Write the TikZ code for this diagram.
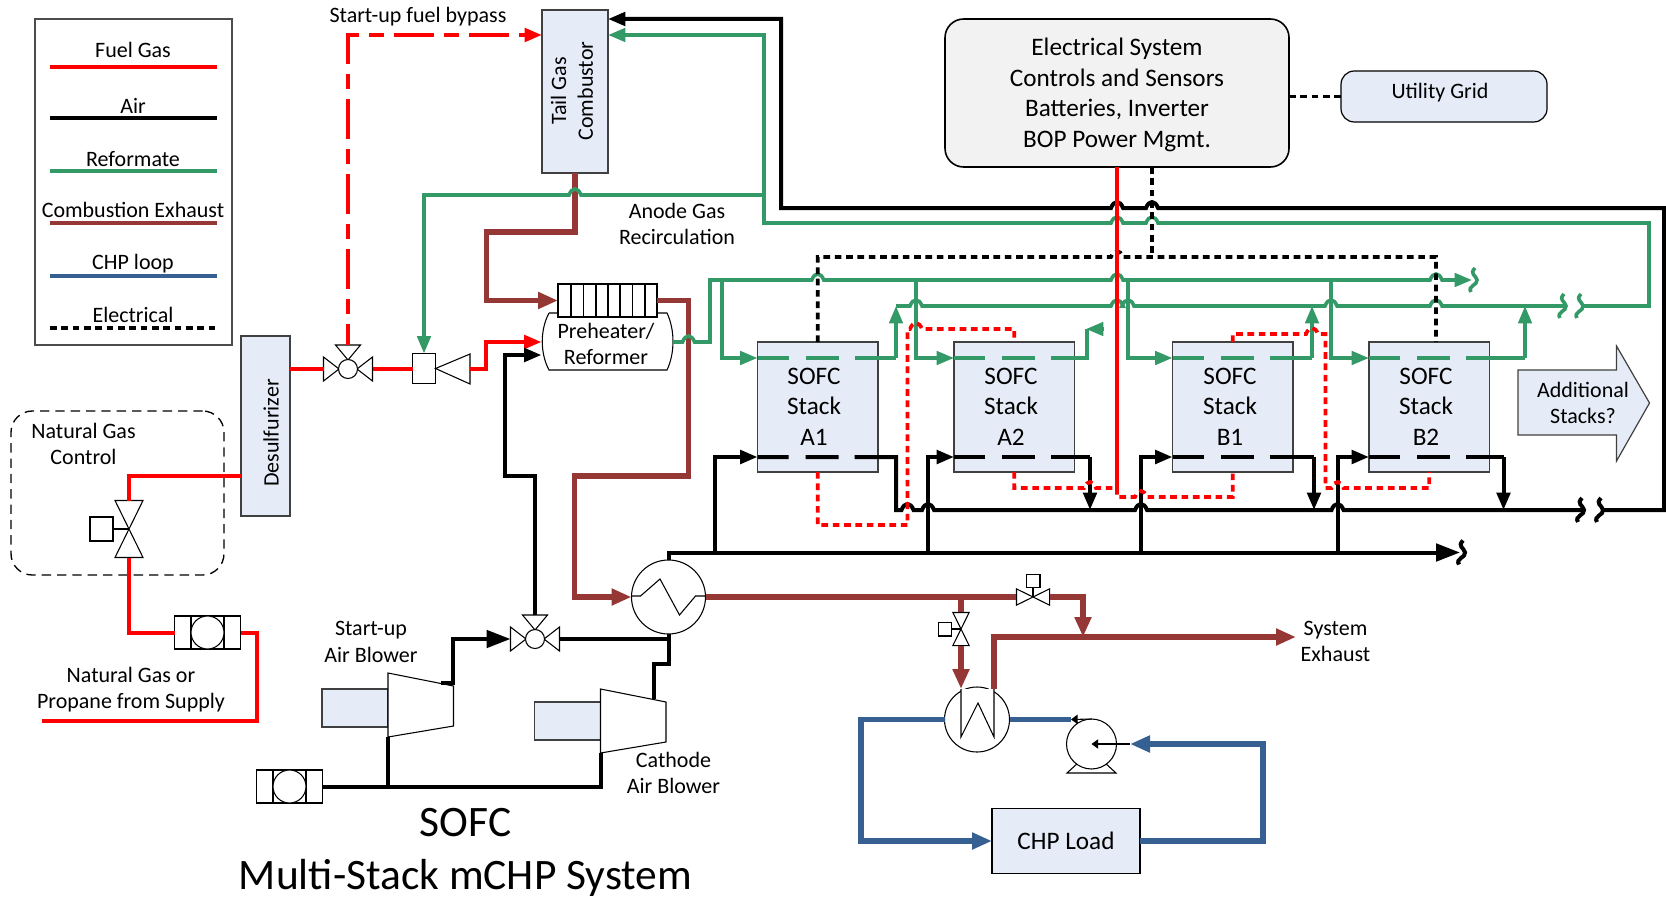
\documentclass[tikz,border=0pt]{standalone}
\usepackage{fontspec}
\setmainfont{Carlito}
\usepackage{tikz}
\usetikzlibrary{arrows.meta}
\definecolor{fuelred}{HTML}{FF0000}
\definecolor{reformgreen}{HTML}{339966}
\definecolor{exhaustbrown}{HTML}{953735}
\definecolor{loopblue}{HTML}{366092}
\definecolor{boxblue}{HTML}{E6ECF7}
\definecolor{boxgrey}{HTML}{F2F2F2}
\newcommand{\hop}[2]{-- (#1-6,#2) .. controls (#1-3,#2-8) and (#1+3,#2-8) .. (#1+6,#2)}

\begin{document}
\begin{tikzpicture}[x=0.75pt,y=-0.75pt]
			\tikzset{size/.style 2 args={minimum width=#1*0.75pt,minimum height=#2*0.75pt,inner sep=0pt,outer sep=0pt}}
			\tikzset{txt/.style={align=center,inner sep=0pt,font=\fontsize{16.5}{20}\selectfont}}
			\tikzset{bigtxt/.style={align=center,inner sep=0pt,font=\fontsize{18.9}{22.9}\selectfont}}
			\tikzset{bluebox/.style={draw=black!75,line width=0.9pt,fill=boxblue}}
			\tikzset{sym/.style={draw=black,line width=0.8pt,fill=white}}
			\tikzset{fuel/.style={color=fuelred,line width=3pt}}
			\tikzset{air/.style={color=black,line width=3pt}}
			\tikzset{reform/.style={color=reformgreen,line width=2.7pt}}
			\tikzset{exhaust/.style={color=exhaustbrown,line width=4pt}}
			\tikzset{chp/.style={color=loopblue,line width=4.2pt}}
			\tikzset{elec/.style={color=black,line width=2.7pt,dash pattern=on 5pt off 3.5pt}}
			\tikzset{sense/.style={color=fuelred,line width=2.8pt,dash pattern=on 5pt off 3.5pt}}
			\tikzset{bypass/.style={dash pattern=on 30pt off 7.5pt on 11.25pt off 7.5pt,dash phase=14.25pt}}
			\tikzset{thru/.style={dash pattern=on 23.25pt off 12.75pt on 24.75pt off 12pt on 2000pt}}
			\tikzset{tip/.style={-{Triangle[length=13pt,width=10pt]}}}
			\tikzset{backtip/.style={{Triangle[length=13pt,width=10pt]}-}}
			\tikzset{widetip/.style={-{Triangle[length=15pt,width=12pt]}}}
			\tikzset{bigtip/.style={-{Triangle[length=18pt,width=13pt]}}}
			\tikzset{smalltip/.style={-{Triangle[length=5pt,width=7pt]},color=black,line width=0.8pt}}
			\tikzset{squig/.pic={\draw (-4,12) .. controls (-8,6) and (3,5) .. (2,0) .. controls (1,-5) and (-6,-6) .. (0,-12);}}
			\tikzset{threeway/.pic={
				\draw[sym] (-24.5,-12) -- (-9,0) -- (-24.5,12) -- cycle;
				\draw[sym] (24.5,-12) -- (9,0) -- (24.5,12) -- cycle;
				\draw[sym] (-12.5,-24) -- (12.5,-24) -- (0,-9) -- cycle;
				\draw[sym] (0,0) circle [radius=9.5];
				\coordinate (-w) at (-24.5,0);
				\coordinate (-e) at (24.5,0);
				\coordinate (-n) at (0,-24);}}
			\tikzset{ctrlvalve/.pic={
				\draw[sym] (-14,-28.5) -- (14,-28.5) -- (-14,28.5) -- (14,28.5) -- cycle;
				\draw[sym] (-39,-12) rectangle (-16,12);
				\draw[sym] (-16,0) -- (0,0);
				\coordinate (-top) at (0,-28.5);
				\coordinate (-bot) at (0,28.5);}}
			\tikzset{meter/.pic={
				\draw[sym] (-33,-16.5) rectangle (33,16.5);
				\draw[sym] (-16.5,-16.5) -- (-16.5,16.5) (16.5,-16.5) -- (16.5,16.5);
				\draw[sym] (0,0) circle [radius=16.5];
				\coordinate (-w) at (-33,0);
				\coordinate (-e) at (33,0);}}
			\tikzset{blower/.pic={
				\draw[bluebox] (-66,#1) rectangle (0,#1+38);
				\draw[sym] (0,0) -- (65.5,13) -- (65.5,53) -- (0,64) -- cycle;
				\coordinate (-out) at (53,10);
				\coordinate (-in) at (0,64);}}
			% Place Nodes
			\useasboundingbox (0,0) rectangle (1666,899);
			\node[draw=black!70,line width=0.9pt,size={197}{326}] (legend) at (133.5,182) {};
			\node[bluebox,size={66}{163}] (TGC) at (575,91.5) {};
			\node[txt,rotate=90] (TGCtext) at (572,91) {Tail Gas\\Combustor};
			\node[draw=black,line width=1.2pt,fill=boxgrey,rounded corners=14pt,size={344}{148}] (Ctrl) at (1117,93) {};
			\node[bigtxt] (Ctrltext) at (1117,95) {Electrical System\\Controls and Sensors\\Batteries, Inverter\\BOP Power Mgmt.};
			\node[bluebox,draw=black,rounded corners=10pt,size={206}{51}] (Grid) at (1444,96.5) {};
			\node[txt] (Gridtext) at (1440,93) {Utility Grid};
			\node[bluebox,size={49}{180}] (Desulf) at (265.5,426) {};
			\node[txt,rotate=90] (Desulftext) at (271,433) {Desulfurizer};
			\node[draw=black,line width=1pt,dash pattern=on 7pt off 4.5pt,rounded corners=16pt,size={213}{164}] (NGbox) at (117.5,493) {};
			\node[txt] (NGtext) at (83.5,444) {Natural Gas\\Control};
			\node[bluebox,size={120.5}{130}] (A1) at (817.75,407) {};
			\node[bluebox,size={120.5}{130}] (A2) at (1014.25,407) {};
			\node[bluebox,size={120.5}{130}] (B1) at (1232.75,407) {};
			\node[bluebox,size={120.5}{130}] (B2) at (1429.25,407) {};
			\node[bigtxt] (A1text) at (814,406.5) {SOFC\\Stack\\A1};
			\node[bigtxt] (A2text) at (1011,406.5) {SOFC\\Stack\\A2};
			\node[bigtxt] (B1text) at (1230,406.5) {SOFC\\Stack\\B1};
			\node[bigtxt] (B2text) at (1426,406.5) {SOFC\\Stack\\B2};
			\draw[bluebox] (1518,370) -- (1616.5,370) -- (1616.5,346) -- (1649.5,403) -- (1616.5,461) -- (1616.5,435) -- (1518,435) -- cycle;
			\node[txt] (More) at (1583,403) {Additional\\Stacks?};
			\node[bluebox,draw=black,size={148}{65}] (Load) at (1066,841) {};
			\node[bigtxt] (Loadtext) at (1066,841) {CHP Load};
			% Junction points
			\coordinate (airrow) at (0,457);
			\coordinate (reformrow) at (0,358);
			\coordinate (busA1) at (715,552.5);
			\coordinate (busA2) at (928,552.5);
			\coordinate (busB1) at (1141,552.5);
			\coordinate (busB2) at (1337.5,552.5);
			\coordinate (busend) at (1460,552.5);
			\coordinate (tapA1) at (722,280);
			\coordinate (tapA2) at (916,280);
			\coordinate (tapB1) at (1128,280);
			\coordinate (tapB2) at (1331,280);
			\coordinate (topend) at (1472,280);
			% Legend
			\foreach \lname/\flow/\ytext/\yline in {Fuel Gas/fuel/50/67,Air/air/106/118,Reformate/reform/159/171,Combustion Exhaust/exhaust/210/223,CHP loop/chp/264/276,Electrical/elec/315/328} {
				\node[txt] (leg\yline) at (133,\ytext) {\lname};
				\coordinate (legl\yline) at (50,\yline);
				\coordinate (legr\yline) at (217,\yline);
				\draw[\flow,line width=2.8pt] (legl\yline) -- (legr\yline);
			}
			% Fuel side
			\pic (vNG) at (129,529) {ctrlvalve};
			\pic (mNG) at (207.5,632.5) {meter};
			\pic (vFuel) at (348,369) {threeway};
			\node[sym,size={23}{30}] (Mix) at (424,368.5) {};
			\coordinate (ejout) at (470,369);
			\draw[sym] (Mix.east) -- (470,354) -- (470,384) -- cycle;
			\coordinate (supply) at (42,721);
			\draw[fuel] (supply) -- (257,721) -- (257,632.5) -- (mNG-e);
			\draw[fuel] (mNG-w) -- (129,632.5) -- (vNG-bot);
			\draw[fuel] (vNG-top) |- (Desulf.west |- 0,476);
			\draw[fuel] (Desulf.east |- vFuel-w) -- (vFuel-w);
			\draw[fuel] (vFuel-e) -- (Mix.west |- vFuel-e);
			\draw[fuel,tip,bypass] (vFuel-n) -- (348,35) -- (TGC.west |- 0,35);
			% Preheater
			\draw[sym] (549,313) -- (667,313) .. controls (675,330) and (675,353) .. (667,370) -- (549,370) .. controls (540,353) and (540,330) .. (549,313);
			\node[size={131}{57}] (Ref) at (607,342) {};
			\node[txt] (Reftext) at (606,344) {Preheater/\\Reformer};
			\node[sym,size={99}{33}] (Fin) at (607.5,300.5) {};
			\foreach \xfin in {571,583.5,596,608,620,632.5,645} {
				\draw[sym] (\xfin,284) -- (\xfin,317);
			}
			\draw[fuel,tip] (ejout) -- (486,369) -- (486,342) -- (Ref.west);
			% Exhaust
			\node[sym,circle,size={74}{74}] (HX) at (668.5,597) {};
			\draw[sym] (631.5,596) -- (640.5,596) -- (660,579) -- (679.5,615) -- (695.5,596) -- (705,596);
			\draw[exhaust,widetip] (TGC.south) -- (575,232) -- (486.5,232) -- (486.5,300.5) -- (Fin.west);
			\draw[exhaust,widetip] (Fin.east) -- (688.5,300.5) -- (688.5,476) -- (574.5,476) -- (574.5,597) -- (HX.west);
			\pic[rotate=-90,scale=0.58] (vBy) at (1033,597) {ctrlvalve};
			\pic[scale=0.58] (vCHP) at (961,629) {ctrlvalve};
			\coordinate (tee) at (961,597);
			\coordinate (hotin) at (961,689);
			\coordinate (hotout) at (994,689);
			\coordinate (merge) at (1083,637);
			\coordinate (exit) at (1296,637);
			\draw[exhaust] (HX.east) -- (vBy-bot);
			\draw[exhaust] (tee) -- (vCHP-top);
			\draw[exhaust,widetip] (vCHP-bot) -- (hotin);
			\draw[exhaust,widetip] (vBy-top) -- (1083,597) -- (merge);
			\draw[exhaust,widetip] (hotout) -- (994,637) -- (exit);
			\node[txt] (Exit) at (1335.5,641.5) {System\\Exhaust};
			% CHP loop
			\node[sym,circle,size={65}{65}] (HXL) at (977,719.5) {};
			\draw[sym] (961,689) -- (961,737) -- (978,703) -- (994,737) -- (994,689);
			\draw[sym] (1079,762) -- (1067,773) -- (1116,773) -- (1104,762) -- cycle;
			\node[sym,circle,size={50}{50}] (Pump) at (1091.5,744) {};
			\coordinate (pumpin) at (1130,744);
			\coordinate (pumpout) at (1071,719.5);
			\draw[chp] (HXL.east) -- (pumpout);
			\draw[chp,widetip] (HXL.west) -- (861,719.5) -- (861,841) -- (Load.west);
			\draw[chp,widetip] (Load.east) -- (1263,841) -- (1263,744) -- (pumpin);
			\draw[smalltip] (Pump.north) -- (pumpout);
			\draw[smalltip] (pumpin) -- (Pump.center);
			% Air side
			\pic (fmAir) at (289.5,786.5) {meter};
			\pic (blStart) at (388,673) {blower=16};
			\pic (blCath) at (600.5,689) {blower=13};
			\pic (vAir) at (535,639) {threeway};
			\draw[air] (fmAir-e) -- (600.5,786.5) -- (blCath-in);
			\draw[air] (388,786.5) -- (blStart-in);
			\draw[air,bigtip] (blStart-out) -- (453,683) -- (453,639) -- (vAir-w);
			\draw[air] (vAir-e) -- (668.5,639);
			\draw[air] (blCath-out) -- (653.5,664) -- (668.5,664) -- (HX.south);
			\draw[air,tip] (vAir-n) -- (535,476) -- (505,476) -- (505,355) -- (Ref.west |- 0,355);
			\draw[air,bigtip] (HX.north) |- (busend);
			\pic[air] (brkbus) at (1463,552.5) {squig};
			\foreach \stack in {A1,A2,B1,B2} {
				\draw[air,tip] (bus\stack) |- (\stack.west |- airrow);
			}
			\draw[air,thru] (A1.west |- airrow) -- (896,457) -- (896,510) \hop{907.5}{510} \hop{928}{510} \hop{1141}{510} \hop{1337.5}{510} -- (1582,510);
			\foreach \stack/\xdrop in {A2/1090,B1/1314,B2/1503.5} {
				\draw[air,thru] (\stack.west |- airrow) -- (\xdrop,457);
				\draw[air,tip] (\xdrop,457) -- (\xdrop,510);
			}
			\pic[air] (brkA) at (1582,510) {squig};
			\pic[air] (brkB) at (1601,510) {squig};
			\draw[air,backtip] (TGC.east |- 0,19) -- (781,19) -- (781,208) \hop{1117}{208} \hop{1152}{208} -- (1664,208) -- (1664,510) -- (1601,510);
			% Reformate
			\draw[reform,backtip] (Mix.north) -- (Mix.north |- 0,195) \hop{575}{195} -- (764,195);
			\draw[reform,backtip] (TGC.east |- 0,35) -- (764,35) -- (764,223) \hop{1117}{223} \hop{1152}{223} -- (1649,223) -- (1649,306) -- (1582,306);
			\draw[reform,tip] (Ref.east) \hop{688.5}{342} -- (710,342) -- (710,280) \hop{817.75}{280} \hop{1117}{280} \hop{1436}{280} -- (topend);
			\pic[reform] (brkT) at (1475,280) {squig};
			\draw[reform] (896,306) \hop{916}{306} \hop{1117}{306} \hop{1128}{306} \hop{1331}{306} \hop{1436}{306} -- (1564,306);
			\pic[reform] (brkC) at (1564,306) {squig};
			\pic[reform] (brkD) at (1581,306) {squig};
			\foreach \stack in {A1,A2,B1,B2} {
				\draw[reform,tip] (tap\stack) |- (\stack.west |- reformrow);
			}
			\foreach \stack/\xrise in {A1/896,B1/1312,B2/1525} {
				\draw[reform,thru] (\stack.west |- reformrow) -- (\xrise,358);
				\draw[reform,tip] (\xrise,358) -- (\xrise,306);
			}
			\draw[reform,thru] (A2.west |- reformrow) -- (1087,358) -- (1087,329);
			\coordinate (stubtip) at (1086,329);
			\draw[reform,tip] (1104,329) -- (stubtip);
			% Electrical
			\draw[elec] (A1.north) -- (A1.north |- 0,257) \hop{1117}{257} -- (1436,257) -- (1436,342);
			\draw[elec] (Ctrl.south -| 1152,0) -- (1152,257);
			\draw[elec] (Ctrl.east |- Grid.west) -- (Grid.west);
			\draw[color=fuelred,line width=2.8pt] (Ctrl.south) -- (1117,488);
			\draw[sense] (A1.south) -- (A1.south |- 0,525) -- (907.5,525) -- (907.5,329) \hop{916}{329} -- (A2.north |- 0,329) -- (A2.north);
			\draw[sense] (A2.south) -- (A2.south |- 0,488) \hop{1090}{488} -- (1117,488);
			\draw[sense] (1117,488) -- (1117,497) \hop{1141}{497} -- (B1.south |- 0,497) -- (B1.south);
			\draw[sense] (B1.north) -- (B1.north |- 0,334) \hop{1312}{334} -- (1325.5,334) -- (1325.5,488) \hop{1337.5}{488} -- (B2.south |- 0,488) -- (B2.south);
			% Labels
			\node[txt] (Bypass) at (418,17) {Start-up fuel bypass};
			\node[txt] (Recirc) at (677,224) {Anode Gas\\Recirculation};
			\node[txt] (Supply) at (131,689.5) {Natural Gas or\\Propane from Supply};
			\node[txt] (StartLab) at (371,642) {Start-up\\Air Blower};
			\node[txt] (CathLab) at (673.5,773) {Cathode\\Air Blower};
			\node[align=center,inner sep=0pt,font=\fontsize{32.6}{39.5}\selectfont] (Title) at (465.5,852.5) {SOFC\\Multi-Stack mCHP System};
\end{tikzpicture}
\end{document}
